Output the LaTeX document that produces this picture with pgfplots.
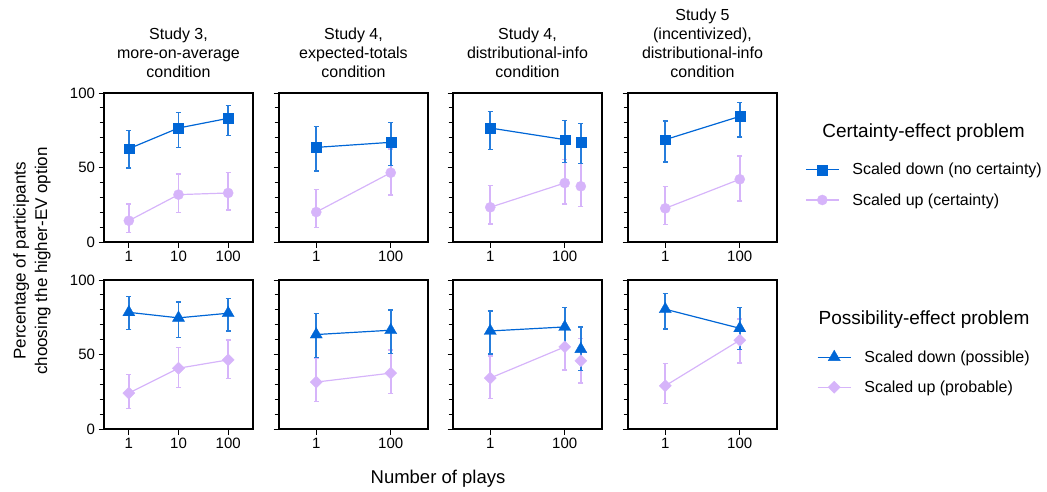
\documentclass[border=0pt]{standalone}
\usepackage{fontspec}
\setmainfont{Liberation Sans}
\usepackage{pgfplots}
\pgfplotsset{compat=1.18}
\usepackage{pgfplotstable}

\definecolor{cblue}{RGB}{0,102,214}
\definecolor{cpurp}{RGB}{214,180,250}
\colorlet{cbluee}{cblue!85!white}

% Study 3, more-on-average
\pgfplotstableread{
x y ep em
1 62.6 12.1 12.9
10 76.5 10.3 13.0
100 83.0 8.7 11.6
}\PaA
\pgfplotstableread{
x y ep em
1 14.3 11.2 7.8
10 31.8 13.8 11.9
100 32.9 13.6 11.4
}\PaB
\pgfplotstableread{
x y ep em
1 78.3 10.5 11.6
10 74.6 10.7 13.2
100 77.7 10.0 11.9
}\PeA
\pgfplotstableread{
x y ep em
1 24.1 12.5 10.3
10 40.8 14.1 12.9
100 46.4 13.4 12.7
}\PeB
% Study 4, expected totals
\pgfplotstableread{
x y ep em
1 63.5 14.1 15.8
100 66.9 13.2 15.7
}\PbA
\pgfplotstableread{
x y ep em
1 20.1 15.0 10.3
100 46.5 15.9 15.0
}\PbB
\pgfplotstableread{
x y ep em
1 63.4 14.3 15.4
100 66.3 13.6 15.6
}\PfA
\pgfplotstableread{
x y ep em
1 31.5 16.0 13.2
100 37.5 15.6 13.8
}\PfB
% Study 4, distributional info
\pgfplotstableread{
x y ep em
1 76.5 11.2 14.5
100 68.7 13.0 15.2
}\PcA
\pgfplotstableread{
x y ep em
270 66.9 12.7 14.3
}\PcAx
\pgfplotstableread{
x y ep em
1 23.3 14.5 11.2
100 39.6 15.7 14.1
}\PcB
\pgfplotstableread{
x y ep em
270 37.4 15.2 13.7
}\PcBx
\pgfplotstableread{
x y ep em
1 65.8 13.4 15.4
100 68.5 13.2 13.1
}\PgA
\pgfplotstableread{
x y ep em
270 53.6 14.9 14.5
}\PgAx
\pgfplotstableread{
x y ep em
1 34.2 14.9 13.7
100 55.1 15.9 15.4
}\PgB
\pgfplotstableread{
x y ep em
270 45.8 14.9 14.8
}\PgBx
% Study 5
\pgfplotstableread{
x y ep em
1 68.7 12.5 15.0
100 84.3 9.2 13.8
}\PdA
\pgfplotstableread{
x y ep em
1 22.6 14.5 10.7
100 42.1 15.6 14.6
}\PdB
\pgfplotstableread{
x y ep em
1 80.4 10.4 13.2
100 67.6 13.9 14.3
}\PhA
\pgfplotstableread{
x y ep em
1 29.0 14.8 12.0
100 59.6 14.3 15.4
}\PhB

\tikzset{
 lsq/.style={color=cblue, line width=1.2pt, mark=square*, mark size=4.9pt, mark options={solid, fill=cblue, draw=cblue, line width=0.3pt}},
 lci/.style={color=cpurp, line width=1.2pt, mark=*, mark size=5.1pt, mark options={solid, fill=cpurp, draw=cpurp, line width=0.3pt}},
 ltr/.style={color=cblue, line width=1.2pt, mark=triangle*, mark size=7pt, mark options={solid, fill=cblue, draw=cblue, line width=0.3pt}},
 ldi/.style={color=cpurp, line width=1.2pt, mark=square*, mark size=4.3pt, mark options={solid, rotate=45, fill=cpurp, draw=cpurp, line width=0.3pt}},
}

\pgfplotsset{
 every axis/.append style={
  scale only axis, width=149pt, height=149pt,
  ymin=0, ymax=100,
  axis line style={line width=1.1pt},
  xminorticks=false,
  ytick={0,50,100}, minor ytick={10,20,30,40,60,70,80,90},
  tick align=outside, tick pos=left,
  major tick length=5.5pt, minor tick length=4.5pt,
  tick style={black, line width=1pt},
  ticklabel style={font=\fontsize{15}{18}\selectfont},
  clip=false,
  legend image code/.code={\draw[mark repeat=2,mark phase=2,#1] plot coordinates {(0pt,0pt) (16.5pt,0pt) (33pt,0pt)};},
  legend style={draw=none, fill=none, inner sep=0pt, font=\fontsize{16}{19}\selectfont, row sep=17pt, nodes={inner sep=0pt}, /tikz/every odd column/.append style={column sep=13pt}},
  legend cell align=left,
 },
 colone/.style={xmin=0.316228, xmax=316.228, xtick={1,10,100}, xticklabels={1,10,100}, yticklabels={0,50,100}},
 colrest/.style={xmin=0.1, xmax=1000, xtick={1,100}, xticklabels={1,100}, yticklabels={}},
}

\newcommand{\serA}[2]{%
 \addplot[#2, error bars/.cd, y dir=both, y explicit,
   error bar style={line width=1.8pt, color=cbluee},
   error mark options={rotate=90, line width=1.4pt, mark size=2.6pt, color=cbluee}]
   table[x=x, y=y, y error plus=ep, y error minus=em] {#1};
}
\newcommand{\serB}[2]{%
 \addplot[#2, error bars/.cd, y dir=both, y explicit,
   error bar style={line width=1.8pt, color=cpurp},
   error mark options={rotate=90, line width=1.4pt, mark size=2.6pt, color=cpurp}]
   table[x=x, y=y, y error plus=ep, y error minus=em] {#1};
}

\begin{document}
\begin{tikzpicture}
\useasboundingbox (0,0) rectangle (1047pt,-491pt);

% ---------- top row ----------
\begin{axis}[xmode=log, colone, at={(104pt,-93pt)}, anchor=north west]
 \serB{\PaB}{lci}
 \serA{\PaA}{lsq}
\end{axis}
\begin{axis}[xmode=log, colrest, at={(279pt,-93pt)}, anchor=north west]
 \serB{\PbB}{lci}
 \serA{\PbA}{lsq}
\end{axis}
\begin{axis}[xmode=log, colrest, at={(453pt,-93pt)}, anchor=north west]
 \serB{\PcB}{lci}
 \serB{\PcBx}{lci}
 \serA{\PcA}{lsq}
 \serA{\PcAx}{lsq}
\end{axis}
\begin{axis}[xmode=log, colrest, at={(628pt,-93pt)}, anchor=north west,
  legend style={at={(1.188,0.383)}, anchor=west}]
 \serB{\PdB}{lci, forget plot}
 \serA{\PdA}{lsq, forget plot}
 \addlegendimage{lsq}
 \addlegendentry{Scaled down (no certainty)}
 \addlegendimage{lci}
 \addlegendentry{Scaled up (certainty)}
\end{axis}

% ---------- bottom row ----------
\begin{axis}[xmode=log, colone, at={(104pt,-280pt)}, anchor=north west]
 \serB{\PeB}{ldi}
 \serA{\PeA}{ltr}
\end{axis}
\begin{axis}[xmode=log, colrest, at={(279pt,-280pt)}, anchor=north west]
 \serB{\PfB}{ldi}
 \serA{\PfA}{ltr}
\end{axis}
\begin{axis}[xmode=log, colrest, at={(453pt,-280pt)}, anchor=north west]
 \serB{\PgB}{ldi}
 \serB{\PgBx}{ldi}
 \serA{\PgA}{ltr}
 \serA{\PgAx}{ltr}
\end{axis}
\begin{axis}[xmode=log, colrest, at={(628pt,-280pt)}, anchor=north west,
  legend style={at={(1.268,0.383)}, anchor=west}]
 \serB{\PhB}{ldi, forget plot}
 \serA{\PhA}{ltr, forget plot}
 \addlegendimage{ltr}
 \addlegendentry{Scaled down (possible)}
 \addlegendimage{ldi}
 \addlegendentry{Scaled up (probable)}
\end{axis}

% ---------- titles ----------
\begin{scope}[every node/.style={align=center, anchor=south, inner sep=0pt, font=\fontsize{16}{19}\selectfont}]
 \node at (178.5pt,-78pt) {Study 3,\\more-on-average\\condition};
 \node at (353.5pt,-78pt) {Study 4,\\expected-totals\\condition};
 \node at (527.5pt,-78pt) {Study 4,\\distributional-info\\condition};
 \node at (702.5pt,-78pt) {Study 5\\(incentivized),\\distributional-info\\condition};
\end{scope}

% legend titles
\node[font=\fontsize{19}{22}\selectfont] at (923.5pt,-133pt) {Certainty-effect problem};
\node[font=\fontsize{19}{22}\selectfont] at (924pt,-320pt) {Possibility-effect problem};

% axis labels
\node[font=\fontsize{18.5}{22}\selectfont] at (438pt,-479pt) {Number of plays};
\node[rotate=90, align=center, font=\fontsize{17}{21.5}\selectfont] at (32pt,-261pt) {Percentage of participants\\choosing the higher-EV option};
\end{tikzpicture}
\end{document}
